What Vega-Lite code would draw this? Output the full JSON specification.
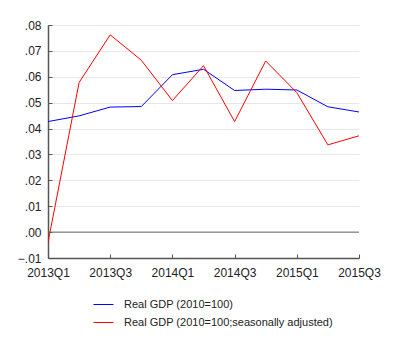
{
  "$schema": "https://vega.github.io/schema/vega-lite/v6.json",
  "width": 311,
  "height": 233,
  "autosize": {"type": "none"},
  "padding": {"left": 48, "top": 25, "right": 41, "bottom": 85},
  "background": "white",
  "config": {
    "font": "Liberation Sans",
    "view": {"stroke": null},
    "axis": {"labelFont": "Liberation Sans", "labelFontSize": 12, "labelColor": "#222", "domainColor": "#555", "tickColor": "#555", "title": null, "labelOverlap": false}
  },
  "data": {"values": [
    {"quarter": "2013Q1", "series": "Real GDP (2010=100)", "value": 0.0427},
    {"quarter": "2013Q2", "series": "Real GDP (2010=100)", "value": 0.0449},
    {"quarter": "2013Q3", "series": "Real GDP (2010=100)", "value": 0.0483},
    {"quarter": "2013Q4", "series": "Real GDP (2010=100)", "value": 0.0485},
    {"quarter": "2014Q1", "series": "Real GDP (2010=100)", "value": 0.0608},
    {"quarter": "2014Q2", "series": "Real GDP (2010=100)", "value": 0.0629},
    {"quarter": "2014Q3", "series": "Real GDP (2010=100)", "value": 0.0547},
    {"quarter": "2014Q4", "series": "Real GDP (2010=100)", "value": 0.0552},
    {"quarter": "2015Q1", "series": "Real GDP (2010=100)", "value": 0.0549},
    {"quarter": "2015Q2", "series": "Real GDP (2010=100)", "value": 0.0484},
    {"quarter": "2015Q3", "series": "Real GDP (2010=100)", "value": 0.0464},
    {"quarter": "2013Q1", "series": "Real GDP (2010=100;seasonally adjusted)", "value": -0.004},
    {"quarter": "2013Q2", "series": "Real GDP (2010=100;seasonally adjusted)", "value": 0.0578},
    {"quarter": "2013Q3", "series": "Real GDP (2010=100;seasonally adjusted)", "value": 0.0762},
    {"quarter": "2013Q4", "series": "Real GDP (2010=100;seasonally adjusted)", "value": 0.0664},
    {"quarter": "2014Q1", "series": "Real GDP (2010=100;seasonally adjusted)", "value": 0.0508},
    {"quarter": "2014Q2", "series": "Real GDP (2010=100;seasonally adjusted)", "value": 0.0643},
    {"quarter": "2014Q3", "series": "Real GDP (2010=100;seasonally adjusted)", "value": 0.0427},
    {"quarter": "2014Q4", "series": "Real GDP (2010=100;seasonally adjusted)", "value": 0.0661},
    {"quarter": "2015Q1", "series": "Real GDP (2010=100;seasonally adjusted)", "value": 0.0539},
    {"quarter": "2015Q2", "series": "Real GDP (2010=100;seasonally adjusted)", "value": 0.0337},
    {"quarter": "2015Q3", "series": "Real GDP (2010=100;seasonally adjusted)", "value": 0.0372}
  ]},
  "layer": [
    {
      "mark": {"type": "line", "strokeWidth": 1, "clip": true},
      "encoding": {
        "x": {"field": "quarter", "type": "ordinal", "scale": {"type": "point", "padding": 0},
          "axis": {"values": ["2013Q1", "2013Q3", "2014Q1", "2014Q3", "2015Q1", "2015Q3"], "labelAngle": 0, "labelOverlap": false, "tickSize": -4, "labelPadding": 13, "domainWidth": 1.5, "tickWidth": 1}},
        "y": {"field": "value", "type": "quantitative",
          "scale": {"domain": [-0.01, 0.08], "nice": false, "zero": false},
          "axis": {"values": [-0.01, 0, 0.01, 0.02, 0.03, 0.04, 0.05, 0.06, 0.07, 0.08], "tickCount": 20, "format": ".2f", "labelExpr": "replace(datum.label, '0.', '.')", "labelOverlap": false, "labelBound": false, "tickSize": -4, "labelPadding": 11, "domainWidth": 1.5, "grid": true, "gridColor": "#e8e8e8", "gridWidth": 1}},
        "color": {"field": "series", "type": "nominal",
          "scale": {"domain": ["Real GDP (2010=100)", "Real GDP (2010=100;seasonally adjusted)"], "range": ["#0000ff", "#ff0000"]},
          "legend": {"title": null, "orient": "none", "legendX": 45, "legendY": 269, "direction": "vertical", "symbolType": "stroke", "symbolSize": 100, "symbolStrokeWidth": 1, "labelFont": "Liberation Sans", "labelFontSize": 11, "labelColor": "#222", "labelLimit": 0, "rowPadding": 2, "labelOffset": 10,
            "encode": {"symbols": {"update": {"size": {"value": 400}}}}}}
      }
    },
    {
      "mark": {"type": "rule", "color": "#666", "strokeWidth": 1},
      "data": {"values": [{"z": 0}]},
      "encoding": {"y": {"field": "z", "type": "quantitative"}}
    }
  ]
}
